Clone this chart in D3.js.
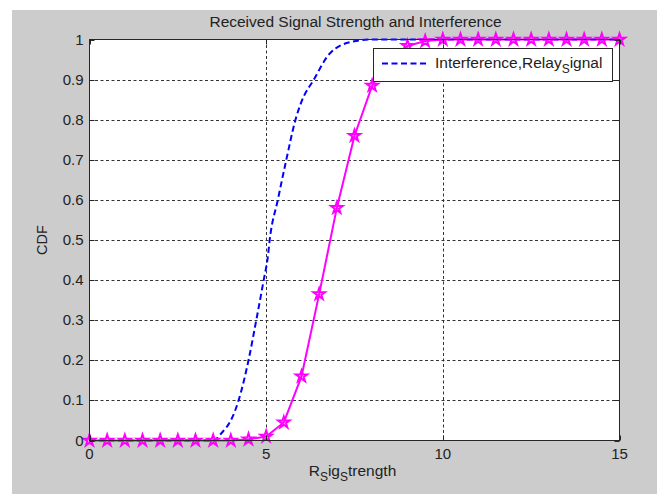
<!DOCTYPE html>
<html>
<head>
<meta charset="utf-8">
<script src="https://cdn.jsdelivr.net/npm/d3@7"></script>
<style>
  body { margin: 0; background: #fff; }
  text { font-family: "Liberation Sans", Arial, sans-serif; fill: #222; }
</style>
</head>
<body>
<div id="chart"></div>
<script>
// ---- data ----
var xTicks = [0, 5, 10, 15];
var yTicks = [0, 0.1, 0.2, 0.3, 0.4, 0.5, 0.6, 0.7, 0.8, 0.9, 1];

// interference CDF (dashed blue curve)
var interfX = [0, 3.5, 3.75, 4.0, 4.22, 4.5, 4.72, 4.93, 5.05, 5.1, 5.33, 5.57, 5.83, 6.0, 6.35, 6.8, 7.45, 8.0, 15];
var interfY = [0, 0, 0.02, 0.05, 0.1, 0.2, 0.3, 0.4, 0.46, 0.5, 0.6, 0.7, 0.8, 0.845, 0.9, 0.965, 0.995, 1, 1];

// relay signal CDF (magenta stars), x = 0:0.5:15
var relayX = [0, 0.5, 1, 1.5, 2, 2.5, 3, 3.5, 4, 4.5, 5, 5.5, 6, 6.5, 7, 7.5, 8, 8.5, 9, 9.5, 10,
              10.5, 11, 11.5, 12, 12.5, 13, 13.5, 14, 14.5, 15];
var relayY = [0, 0, 0, 0, 0, 0, 0, 0, 0, 0.003, 0.01, 0.045, 0.16, 0.365, 0.58, 0.76, 0.885, 0.955, 0.984, 0.996, 1,
              1, 1, 1, 1, 1, 1, 1, 1, 1, 1];

var W = 662, H = 494;
var box = {left: 89.5, right: 619.5, top: 39.5, bottom: 440.5};

const svg = d3.select('#chart').append('svg')
    .attr('width', W).attr('height', H);

// figure background (matlab grey)
svg.append('rect').attr('width', W).attr('height', H).attr('fill', '#fff');
svg.append('rect').attr('x', 12).attr('y', 10).attr('width', 645).attr('height', 484).attr('fill', '#cccccc');

var x = d3.scaleLinear().domain([0, 15]).range([box.left, box.right]);
var y = d3.scaleLinear().domain([0, 1]).range([box.bottom, box.top]);

// axes area
svg.append('rect')
    .attr('x', box.left).attr('y', box.top)
    .attr('width', box.right - box.left).attr('height', box.bottom - box.top)
    .attr('fill', '#fff');

// grid lines (dotted)
const grid = svg.append('g').attr('stroke', '#333').attr('stroke-width', 1).attr('stroke-dasharray', '3,2.5');
grid.selectAll('line.gx')
    .data(xTicks.slice(1, -1))
    .join('line')
    .attr('x1', d => Math.round(x(d)) + 0.5).attr('x2', d => Math.round(x(d)) + 0.5)
    .attr('y1', box.top).attr('y2', box.bottom);
grid.selectAll('line.gy')
    .data(yTicks.slice(1, -1))
    .join('line')
    .attr('y1', d => Math.round(y(d)) + 0.5).attr('y2', d => Math.round(y(d)) + 0.5)
    .attr('x1', box.left).attr('x2', box.right);

// interference curve
var interf = interfX.map((d, i) => [d, interfY[i]]);
svg.append('path')
    .datum(interf)
    .attr('fill', 'none')
    .attr('stroke', '#0000ff')
    .attr('stroke-width', 2)
    .attr('stroke-dasharray', '6,3.5')
    .attr('d', d3.line().x(d => x(d[0])).y(d => y(d[1])).curve(d3.curveMonotoneX));

// relay signal curve + star markers
var relay = relayX.map((d, i) => [d, relayY[i]]);
svg.append('path')
    .datum(relay)
    .attr('fill', 'none')
    .attr('stroke', '#ff00ff')
    .attr('stroke-width', 2)
    .attr('d', d3.line().x(d => x(d[0])).y(d => y(d[1])));

svg.append('g').selectAll('path')
    .data(relay)
    .join('path')
    .attr('transform', d => `translate(${x(d[0])},${y(d[1])})`)
    .attr('d', d3.symbol(d3.symbolStar, 40))
    .attr('fill', 'none')
    .attr('stroke', '#ff00ff')
    .attr('stroke-width', 2);

// axes box with inward ticks
const axes = svg.append('g').attr('stroke', '#262626').attr('stroke-width', 1).attr('fill', 'none');
axes.append('rect')
    .attr('x', box.left).attr('y', box.top)
    .attr('width', box.right - box.left).attr('height', box.bottom - box.top);
var tl = 5;
axes.selectAll('line.tx')
    .data(xTicks)
    .join('line')
    .attr('x1', d => Math.round(x(d)) + 0.5).attr('x2', d => Math.round(x(d)) + 0.5)
    .attr('y1', box.bottom).attr('y2', box.bottom - tl);
axes.selectAll('line.tx2')
    .data(xTicks)
    .join('line')
    .attr('x1', d => Math.round(x(d)) + 0.5).attr('x2', d => Math.round(x(d)) + 0.5)
    .attr('y1', box.top).attr('y2', box.top + tl);
axes.selectAll('line.ty')
    .data(yTicks)
    .join('line')
    .attr('y1', d => Math.round(y(d)) + 0.5).attr('y2', d => Math.round(y(d)) + 0.5)
    .attr('x1', box.left).attr('x2', box.left + tl);
axes.selectAll('line.ty2')
    .data(yTicks)
    .join('line')
    .attr('y1', d => Math.round(y(d)) + 0.5).attr('y2', d => Math.round(y(d)) + 0.5)
    .attr('x1', box.right).attr('x2', box.right - tl);

// tick labels
svg.append('g').selectAll('text')
    .data(xTicks)
    .join('text')
    .attr('x', d => x(d)).attr('y', box.bottom + 18)
    .attr('text-anchor', 'middle')
    .style('font-size', '15px')
    .text(d => d);
svg.append('g').selectAll('text')
    .data(yTicks)
    .join('text')
    .attr('x', box.left - 6).attr('y', d => y(d) + 5)
    .attr('text-anchor', 'end')
    .style('font-size', '15px')
    .text(d => d);

// title and axis labels
svg.append('text')
    .attr('x', (box.left + box.right) / 2 + 1).attr('y', 27)
    .attr('text-anchor', 'middle')
    .style('font-size', '15.5px')
    .text('Received Signal Strength and Interference');

svg.append('text')
    .attr('transform', `translate(47,${(box.top + box.bottom) / 2}) rotate(-90)`)
    .attr('text-anchor', 'middle')
    .style('font-size', '14.5px')
    .text('CDF');

const xl = svg.append('text')
    .attr('x', (box.left + box.right) / 2 - 2).attr('y', 476)
    .attr('text-anchor', 'middle')
    .style('font-size', '15.5px');
xl.append('tspan').text('R');
xl.append('tspan').attr('dy', 5).style('font-size', '12px').text('S');
xl.append('tspan').attr('dy', -5).text('ig');
xl.append('tspan').attr('dy', 5).style('font-size', '12px').text('S');
xl.append('tspan').attr('dy', -5).text('trength');

// legend
const lg = svg.append('g');
lg.append('rect')
    .attr('x', 373.5).attr('y', 48.5).attr('width', 239).attr('height', 33)
    .attr('fill', '#fff').attr('stroke', '#262626').attr('stroke-width', 1);
lg.append('line')
    .attr('x1', 382).attr('x2', 428).attr('y1', 63.5).attr('y2', 63.5)
    .attr('stroke', '#0000ff').attr('stroke-width', 2).attr('stroke-dasharray', '6,3.5');
const lt = lg.append('text')
    .attr('x', 435).attr('y', 68)
    .style('font-size', '15.5px');
lt.append('tspan').text('Interference,Relay');
lt.append('tspan').attr('dy', 5).style('font-size', '12px').text('S');
lt.append('tspan').attr('dy', -5).text('ignal');
</script>
</body>
</html>
